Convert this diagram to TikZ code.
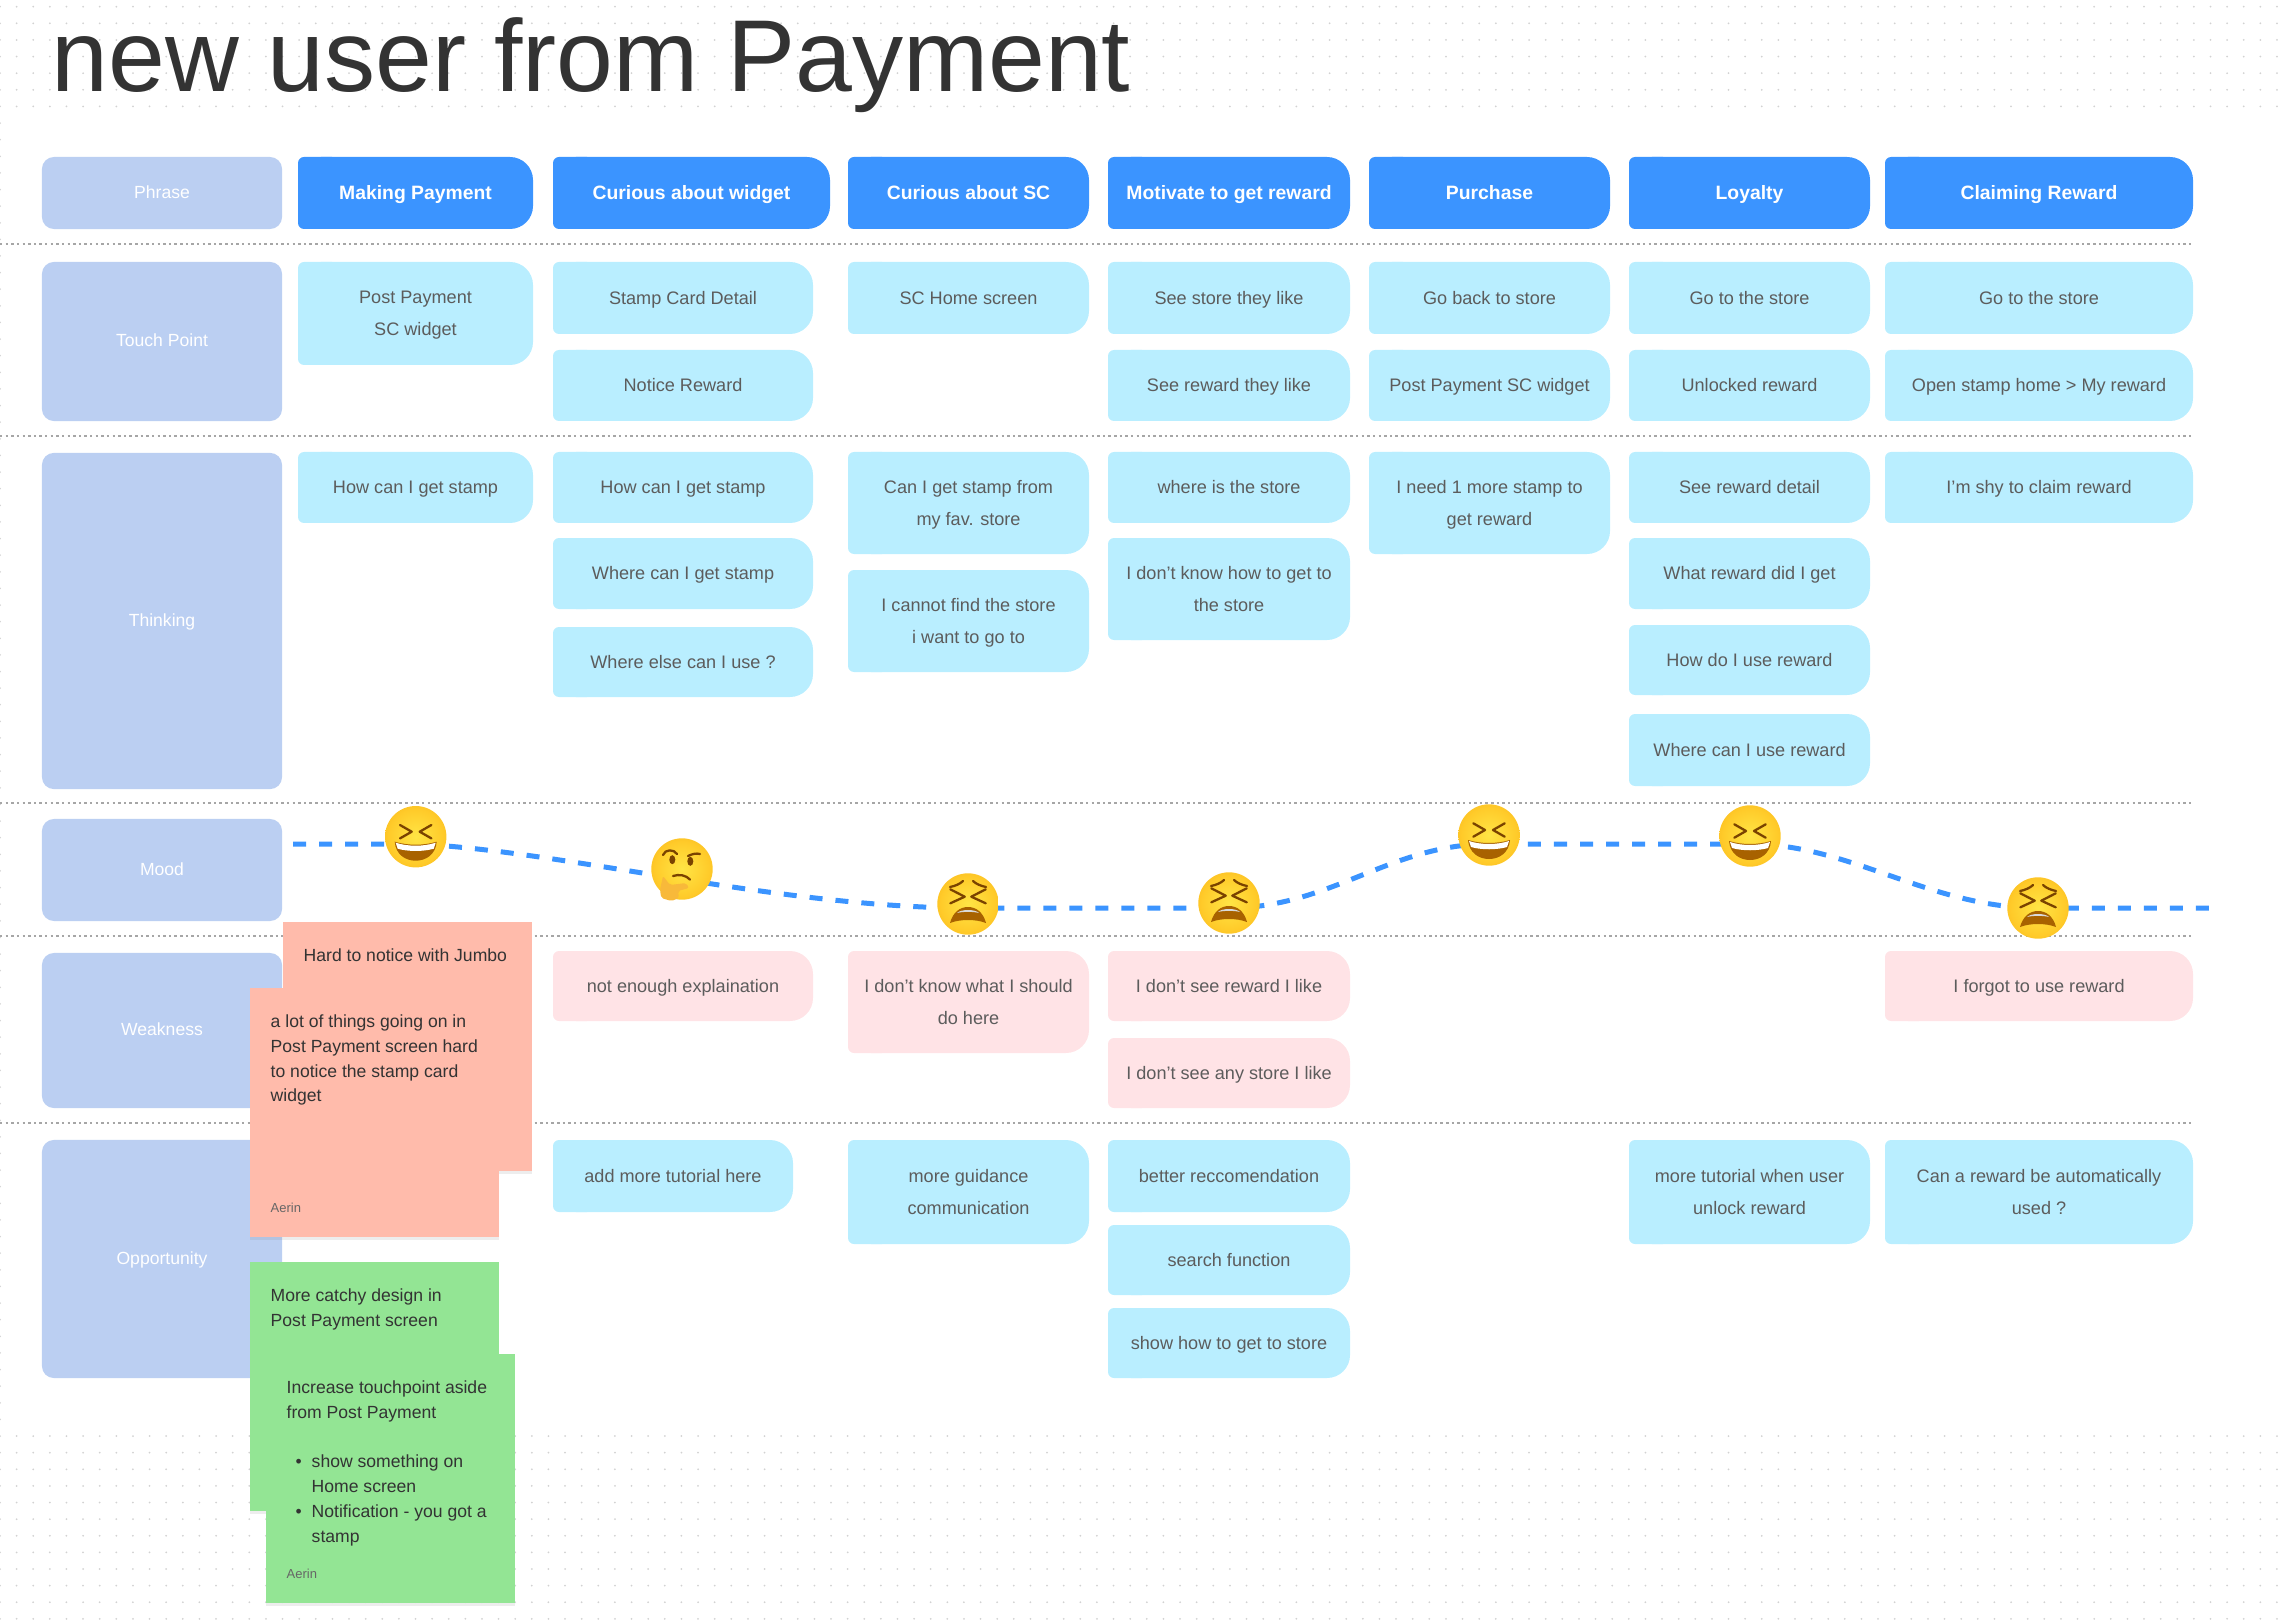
\documentclass[tikz,border=0pt]{standalone}
\usepackage{fontspec}
\setmainfont{Liberation Sans}
\usepackage{xcolor}
\usepackage{tikz}
\usetikzlibrary{calc, positioning, shadows}
\definecolor{accent}{HTML}{3B94FF}
\definecolor{nodelabel}{HTML}{BBCFF2}
\definecolor{nodeinfo}{HTML}{B9EEFF}
\definecolor{nodeweak}{HTML}{FFE3E6}
\definecolor{noteweak}{HTML}{FFBBAB}
\definecolor{noteopp}{HTML}{93E594}
\definecolor{bodytext}{HTML}{5C5C5C}
\definecolor{darktext}{HTML}{333333}
\definecolor{griddot}{HTML}{D2D2D2}
\definecolor{faceinner}{HTML}{FFE545}
\definecolor{facemid}{HTML}{FFCB2A}
\definecolor{faceedge}{HTML}{F8AC14}
\definecolor{faceouter}{HTML}{E98F0A}
\definecolor{facedark}{HTML}{7A4300}
\definecolor{facemouth}{HTML}{A86200}
\definecolor{facehand}{HTML}{F8B93A}
\pgfdeclareradialshading{facegrad}{\pgfpointorigin}{color(0bp)=(faceinner); color(22bp)=(facemid); color(40bp)=(faceedge); color(50bp)=(faceouter); color(100bp)=(faceouter)}

% card: flat left side, big round corners on the right
\newcommand{\card}[7]{
    \fill[#1, rounded corners=0.23cm] (#3, #4) rectangle (#5, #6);
    \fill[#1, rounded corners=0.06cm] (#3, #4) rectangle ($(#3, #6)+(40, 0)$);
    \node[cardtext, text=#1text] (#2) at ($(#3, #4)!0.5!(#5, #6)$) {\strut #7\strut};
}

\begin{document}
\begin{tikzpicture}[
    x=0.01cm, y=-0.01cm,
    cardtext/.style={align=center, inner sep=0pt, font=\fontsize{5.15}{9.1}\selectfont},
    head/.style={fill=accent},
    info/.style={fill=nodeinfo},
    weak/.style={fill=nodeweak},
    phaselabel/.style={fill=nodelabel, rounded corners=0.12cm, minimum width=2.4cm, text=white, inner sep=0pt, text height=4pt, text depth=1pt, font=\fontsize{5}{7}\selectfont},
    separator/.style={draw=gray!70, line width=0.4pt, dash pattern=on 0.7pt off 0.9pt},
    moodline/.style={draw=accent, line width=1.42pt, dash pattern=on 0.13cm off 0.13cm},
    sticky/.style={fill=#1, minimum size=2.49cm, inner sep=0pt, anchor=north west, drop shadow={shadow xshift=0pt, shadow yshift=-1pt, opacity=0.14}},
    stickytext/.style={anchor=north west, align=left, inner sep=0pt, text=darktext, font=\fontsize{5}{7.06}\selectfont},
    stickyname/.style={anchor=north west, inner sep=0pt, text=darktext!75, font=\fontsize{3.7}{5}\selectfont},
    face/.style={shading=facegrad},
    facestroke/.style={draw=facedark, line width=0.65pt, line cap=round, line join=round},
    laughface/.pic={
        \path[face] (0, 0) circle (30.7);
        \draw[facestroke] (-15.7, -11.7) -- (-4, -5) -- (-15.7, 1.7);
        \draw[facestroke] (15.7, -11.7) -- (4, -5) -- (15.7, 1.7);
        \fill[facemouth] (-21, 5) .. controls (-8, 9) and (8, 9) .. (21, 5) .. controls (20, 18) and (10, 24) .. (0, 24) .. controls (-10, 24) and (-20, 18) .. cycle;
        \fill[white] (-20, 6) .. controls (-8, 10) and (8, 10) .. (20, 6) -- (18, 12) .. controls (8, 15) and (-8, 15) .. (-18, 12) -- cycle;
    },
    tiredface/.pic={
        \path[face] (0, 0) circle (30.7);
        \draw[facestroke] (-18, -17) .. controls (-13, -18) and (-8, -20) .. (-5, -23);
        \draw[facestroke] (18, -17) .. controls (13, -18) and (8, -20) .. (5, -23);
        \draw[facestroke] (-17.7, -14.7) -- (-3.3, -7.3) -- (-17.7, -0.7);
        \draw[facestroke] (17.7, -14.7) -- (3.3, -7.3) -- (17.7, -0.7);
        \fill[facemouth] (-18, 19) .. controls (-15, 8) and (-8, 3) .. (0, 3) .. controls (8, 3) and (15, 8) .. (18, 19) .. controls (8, 15) and (-8, 15) .. cycle;
        \fill[gray!30] (-11, 9) .. controls (-7, 5) and (7, 5) .. (11, 9) .. controls (6, 7.5) and (-6, 7.5) .. cycle;
    },
    thinkface/.pic={
        \path[face] (0, 0) circle (30.7);
        \draw[facestroke] (-19, -14) .. controls (-17, -20) and (-8, -20) .. (-5, -15);
        \draw[facestroke] (6, -13) .. controls (10, -15) and (14, -16) .. (18, -15);
        \fill[facedark] (-9.7, -9.3) ellipse (3 and 4.5);
        \fill[facedark] (8.3, -7.7) ellipse (3 and 4.5);
        \draw[facestroke] (-9, 7) .. controls (-3, 5) and (4, 6) .. (8, 10.6);
        \fill[facehand, rounded corners=0.02cm] (-19, 7) -- (-12, 16) -- (4, 14) -- (7, 19) -- (-4, 22) -- (-3, 29) -- (-10.7, 32) -- (-20.7, 29) -- (-22, 21) -- cycle;
    },
]
    \useasboundingbox (0, 0) rectangle (2286, 1622);

    % background dots
    \foreach \row in {0, ..., 6, 86, 87, ..., 97} {
        \foreach \col in {0, ..., 137} {
            \fill[griddot] (\col*16.62, 6.7+\row*16.62) circle (1);
        }
    }
    \foreach \row in {7, ..., 85} {
        \fill[griddot] (0, 6.7+\row*16.62) circle (1);
    }

    \node[anchor=base west, inner sep=0pt, text=darktext, font=\fontsize{29.05}{32}\selectfont] (title) at (51, 92) {new user from Payment};

    \foreach \ypos in {244, 436, 803, 936, 1123} {
        \draw[separator] (0, \ypos) -- (2193, \ypos);
    }

    % row labels
    \node[phaselabel, minimum height=0.72cm] (phrase) at (162, 193) {Phrase};
    \node[phaselabel, minimum height=1.59cm] (touch) at (162, 341.5) {Touch Point};
    \node[phaselabel, minimum height=3.36cm] (thinking) at (162, 621) {Thinking};
    \node[phaselabel, minimum height=1.02cm] (mood) at (162, 870) {Mood};
    \node[phaselabel, minimum height=1.55cm] (weakness) at (162, 1030.5) {Weakness};
    \node[phaselabel, minimum height=2.38cm] (opportunity) at (162, 1259) {Opportunity};

    % header
    \tikzset{cardtext/.append style={font=\bfseries\fontsize{5.5}{9.1}\selectfont}}
    \colorlet{headtext}{white}
    \card{head}{makepay}{298}{157}{533}{229}{Making Payment}
    \card{head}{curwidget}{553}{157}{830}{229}{Curious about widget}
    \card{head}{cursc}{848}{157}{1089}{229}{Curious about SC}
    \card{head}{motivate}{1108}{157}{1350}{229}{Motivate to get reward}
    \card{head}{purchase}{1369}{157}{1610}{229}{Purchase}
    \card{head}{loyalty}{1629}{157}{1870}{229}{Loyalty}
    \card{head}{claiming}{1885}{157}{2193}{229}{Claiming Reward}
    \tikzset{cardtext/.append style={font=\fontsize{5.15}{9.1}\selectfont}}
    \colorlet{infotext}{bodytext}
    \colorlet{weaktext}{bodytext}

    % touch points
    \card{info}{tpa}{298}{262}{533}{365}{Post Payment\\SC widget}
    \card{info}{tpb}{553}{262}{813}{334}{Stamp Card Detail}
    \card{info}{tpc}{553}{350}{813}{421}{Notice Reward}
    \card{info}{tpd}{848}{262}{1089}{334}{SC Home screen}
    \card{info}{tpe}{1108}{262}{1350}{334}{See store they like}
    \card{info}{tpf}{1108}{350}{1350}{421}{See reward they like}
    \card{info}{tpg}{1369}{262}{1610}{334}{Go back to store}
    \card{info}{tph}{1369}{350}{1610}{421}{Post Payment SC widget}
    \card{info}{tpi}{1629}{262}{1870}{334}{Go to the store}
    \card{info}{tpj}{1629}{350}{1870}{421}{Unlocked reward}
    \card{info}{tpk}{1885}{262}{2193}{334}{Go to the store}
    \card{info}{tpl}{1885}{350}{2193}{421}{Open stamp home > My reward}

    % thinking
    \card{info}{tha}{298}{452}{533}{523}{How can I get stamp}
    \card{info}{thb}{553}{452}{813}{523}{How can I get stamp}
    \card{info}{thc}{553}{538}{813}{609}{Where can I get stamp}
    \card{info}{thd}{553}{627}{813}{697}{Where else can I use ?}
    \card{info}{the}{848}{452}{1089}{554}{Can I get stamp from\\my fav. store}
    \card{info}{thf}{848}{570}{1089}{672}{I cannot find the store\\i want to go to}
    \card{info}{thg}{1108}{452}{1350}{523}{where is the store}
    \card{info}{thh}{1108}{538}{1350}{640}{I don’t know how to get to\\the store}
    \card{info}{thi}{1369}{452}{1610}{554}{I need 1 more stamp to\\get reward}
    \card{info}{thj}{1629}{452}{1870}{523}{See reward detail}
    \card{info}{thk}{1629}{538}{1870}{609}{What reward did I get}
    \card{info}{thl}{1629}{625}{1870}{695}{How do I use reward}
    \card{info}{thm}{1629}{714}{1870}{786}{Where can I use reward}
    \card{info}{thn}{1885}{452}{2193}{523}{I’m shy to claim reward}

    % weakness
    \card{weak}{wka}{553}{951}{813}{1021}{not enough explaination}
    \card{weak}{wkb}{848}{951}{1089}{1053}{I don’t know what I should\\do here}
    \card{weak}{wkc}{1108}{951}{1350}{1021}{I don’t see reward I like}
    \card{weak}{wkd}{1108}{1038}{1350}{1108}{I don’t see any store I like}
    \card{weak}{wke}{1885}{951}{2193}{1021}{I forgot to use reward}

    % opportunity
    \card{info}{opa}{553}{1140}{793}{1212}{add more tutorial here}
    \card{info}{opb}{848}{1140}{1089}{1244}{more guidance\\communication}
    \card{info}{opc}{1108}{1140}{1350}{1212}{better reccomendation}
    \card{info}{opd}{1108}{1225}{1350}{1295}{search function}
    \card{info}{ope}{1108}{1308}{1350}{1378}{show how to get to store}
    \card{info}{opf}{1629}{1140}{1870}{1244}{more tutorial when user\\unlock reward}
    \card{info}{opg}{1885}{1140}{2193}{1244}{Can a reward be automatically\\used ?}

    % mood line
    \coordinate (moodstart) at (293, 844);
    \coordinate (moodend) at (2211, 908);
    \coordinate (moodone) at (415, 844);
    \coordinate (moodtwo) at (968, 908);
    \coordinate (moodthree) at (1229, 908);
    \coordinate (moodfour) at (1489, 844);
    \coordinate (moodfive) at (1750, 844);
    \coordinate (moodsix) at (2038, 908);
    \draw[moodline] (moodstart) -- (moodone) .. controls (560, 850) and (780, 908) .. (moodtwo) -- (moodthree) .. controls (1330, 908) and (1390, 844) .. (moodfour) -- (moodfive) .. controls (1850, 844) and (1930, 908) .. (moodsix) -- (moodend);

    \pic (facea) at (415.7, 836.7) {laughface};
    \pic (faceb) at (682, 869) {thinkface};
    \pic (facec) at (968, 904) {tiredface};
    \pic (faced) at (1229, 903) {tiredface};
    \pic (facee) at (1489, 835) {laughface};
    \pic (facef) at (1750, 836) {laughface};
    \pic (faceg) at (2038, 908) {tiredface};

    % sticky notes
    \node[sticky=noteweak] (notea) at (282, 921) {};
    \node[stickytext] (noteatext) at ($(notea.north west)+(21, 27)$) {Hard to notice with Jumbo};
    \node[sticky=noteweak] (noteb) at (249, 987) {};
    \node[stickytext] (notebtext) at ($(noteb.north west)+(21, 27)$) {a lot of things going on in\\Post Payment screen hard\\to notice the stamp card\\widget};
    \node[stickyname] (notebname) at ($(noteb.north west)+(21, 215)$) {Aerin};
    \node[sticky=noteopp] (notec) at (249, 1261) {};
    \node[stickytext] (notectext) at ($(notec.north west)+(21, 27)$) {More catchy design in\\Post Payment screen};
    \node[sticky=noteopp] (noted) at (265, 1353) {};
    \node[stickytext] (notedtext) at ($(noted.north west)+(21, 27)$) {Increase touchpoint aside\\from Post Payment\\[7.06pt]\hspace*{0.25cm}\llap{\textbullet\hspace{0.1cm}}show something on\\\hspace*{0.25cm}Home screen\\\hspace*{0.25cm}\llap{\textbullet\hspace{0.1cm}}Notification - you got a\\\hspace*{0.25cm}stamp};
    \node[stickyname] (notedname) at ($(noted.north west)+(21, 215)$) {Aerin};
\end{tikzpicture}
\end{document}
